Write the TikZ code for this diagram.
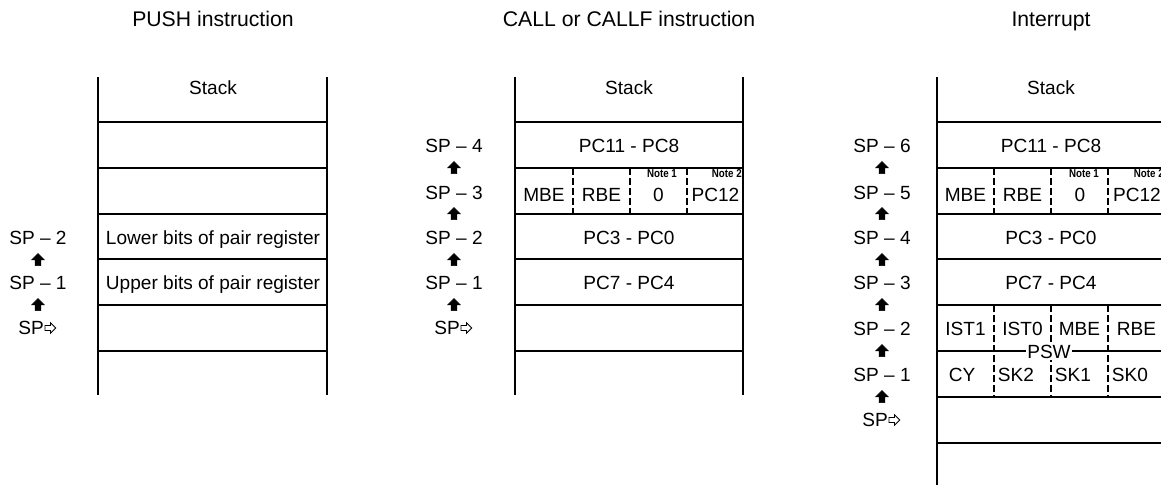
\documentclass[tikz,border=0pt]{standalone}
\usepackage{fontspec}
\setmainfont{Liberation Sans}
\newfontfamily\notefont[FakeStretch=0.85]{Liberation Sans}
\usetikzlibrary{positioning, shapes.arrows}

\begin{document}
\begin{tikzpicture}[x=0.75pt, y=-0.75pt,
    txt/.style={font=\fontsize{14.3}{16}\selectfont, inner sep=0pt, anchor=base},
    title/.style={font=\fontsize{15.9}{18}\selectfont, inner sep=0pt, anchor=base},
    note/.style={font=\notefont\fontsize{8.6}{9}\selectfont\bfseries, inner sep=0pt},
    wall/.style={line width=2.2pt},
    row/.style={line width=1pt},
    split/.style={line width=0.8pt, dash pattern=on 5pt off 2.5pt},
    up/.style={single arrow, draw, fill=black, rotate=90, minimum height=9pt, single arrow head extend=2.6pt, inner sep=1.9pt, line width=0.4pt},
    sparrow/.style={single arrow, draw, line width=0.6pt, minimum height=8pt, single arrow head extend=2pt, inner sep=1.6pt}]
        \useasboundingbox (0,0) rectangle (1161,485);
        \clip (0,0) rectangle (1161,485);
        % titles
        \node[title] (T1) at (213,27) {PUSH instruction};
        \node[title] (T2) at (629,27) {CALL or CALLF instruction};
        \node[title] (T3) at (1051,27) {Interrupt};
        % PUSH
        \draw[wall] (98,77) -- (98,395);
        \draw[wall] (327,77) -- (327,395);
        \foreach \y in {122,168,214,259,305,351} \draw[row] (98,\y) -- (327,\y);
        \node[txt] (S1) at (213,94) {Stack};
        \node[txt] (P1) at (213,244) {Lower bits of pair register};
        \node[txt] (P2) at (213,289) {Upper bits of pair register};
        \node[txt] (L12) at (38,244) {SP \textendash{} 2};
        \node[up] (A12) at (38,261) {};
        \node[txt] (L11) at (38,289) {SP \textendash{} 1};
        \node[up] (A11) at (38,306) {};
        \node[txt, anchor=center] (L10) at (31,328) {SP};
        \node[sparrow, right=0.5pt of L10] (R1) {};
        % CALL or CALLF
        \draw[wall] (515,77) -- (515,395);
        \draw[wall] (743,77) -- (743,395);
        \foreach \y in {122,168,214,259,305,351} \draw[row] (515,\y) -- (743,\y);
        \foreach \x in {573,630,687} \draw[split] (\x,168) -- (\x,214);
        \node[txt] (S2) at (629,94) {Stack};
        \node[txt] (C1) at (629,152) {PC11 - PC8};
        \node[txt] (C2) at (544,201) {MBE};
        \node[txt] (C3) at (601.5,201) {RBE};
        \node[txt] (C4) at (658.5,201) {0};
        \node[txt] (C5) at (715.5,201) {PC12};
        \node[note, anchor=north] (N21) at (662,169.5) {Note 1};
        \node[note, anchor=north east] (N22) at (742,169.5) {Note 2};
        \node[txt] (C6) at (629,244) {PC3 - PC0};
        \node[txt] (C7) at (629,289) {PC7 - PC4};
        \foreach \n/\y in {4/152,3/199,2/244,1/289} \node[txt] (L2\n) at (454,\y) {SP \textendash{} \n};
        \foreach \n/\y in {4/169,3/215,2/261,1/306} \node[up] (A2\n) at (454,\y) {};
        \node[txt, anchor=center] (L20) at (447,328) {SP};
        \node[sparrow, right=0.5pt of L20] (R2) {};
        % Interrupt
        \draw[wall] (937,77) -- (937,490);
        \draw[wall] (1165,77) -- (1165,490);
        \foreach \y in {122,168,214,259,305,351,397,443} \draw[row] (937,\y) -- (1165,\y);
        \foreach \x in {994,1051,1108} \draw[split] (\x,168) -- (\x,214);
        \foreach \x in {994,1051,1108} \draw[split] (\x,305) -- (\x,397);
        \node[txt] (S3) at (1051,94) {Stack};
        \node[txt] (I1) at (1051,152) {PC11 - PC8};
        \node[txt] (I2) at (965.5,201) {MBE};
        \node[txt] (I3) at (1022.5,201) {RBE};
        \node[txt] (I4) at (1080,201) {0};
        \node[txt] (I5) at (1137,201) {PC12};
        \node[note, anchor=north] (N31) at (1084,169.5) {Note 1};
        \node[note, anchor=north east] (N32) at (1164,169.5) {Note 2};
        \node[txt] (I6) at (1051,244) {PC3 - PC0};
        \node[txt] (I7) at (1051,289) {PC7 - PC4};
        \node[txt] (I8) at (965.5,335) {IST1};
        \node[txt] (I9) at (1022.5,335) {IST0};
        \node[txt] (I10) at (1079.5,335) {MBE};
        \node[txt] (I11) at (1136.5,335) {RBE};
        \node[txt] (I12) at (962,381) {CY};
        \node[txt] (I13) at (1016,381) {SK2};
        \node[txt] (I14) at (1073,381) {SK1};
        \node[txt] (I15) at (1130,381) {SK0};
        \node[txt, anchor=center, fill=white, inner sep=1pt] (PSW) at (1049,352) {PSW};
        \foreach \n/\y in {6/152,5/199,4/244,3/289,2/335,1/381} \node[txt] (L3\n) at (882,\y) {SP \textendash{} \n};
        \foreach \n/\y in {6/169,5/215,4/261,3/306,2/352,1/398} \node[up] (A3\n) at (882,\y) {};
        \node[txt, anchor=center] (L30) at (875,420) {SP};
        \node[sparrow, right=0.5pt of L30] (R3) {};
    \end{tikzpicture}
\end{document}
